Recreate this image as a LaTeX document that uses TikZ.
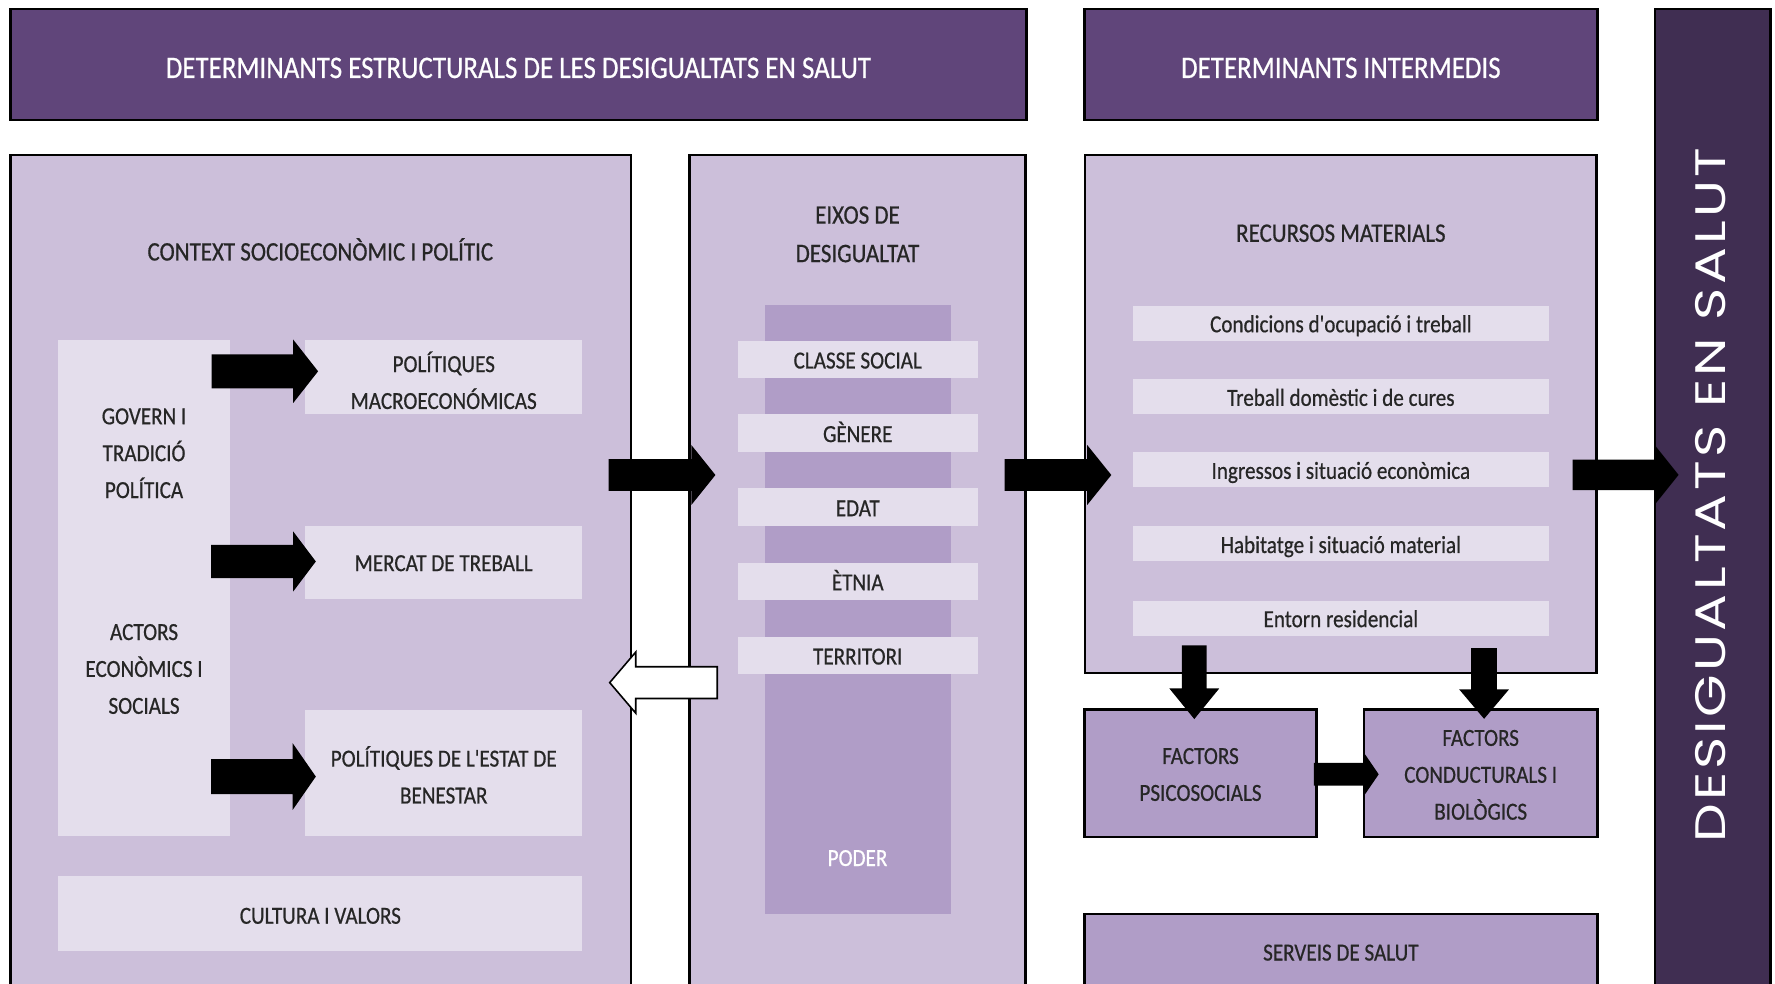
\documentclass[tikz,border=0pt]{standalone}
\usepackage{fontspec}
\setmainfont{Carlito}[FakeStretch=0.86,FakeBold=0.6,Ligatures=TeXOff]
\newfontfamily\barfont{Poppins}[LetterSpace=6]
\definecolor{hdrc}{RGB}{96,69,122}
\definecolor{barc}{RGB}{64,46,82}
\definecolor{lav}{RGB}{204,191,218}
\definecolor{pale}{RGB}{228,222,236}
\definecolor{midc}{RGB}{176,157,199}
\definecolor{ink}{RGB}{38,38,38}
\tikzset{
  pics/fatarrow/.style args={#1/#2/#3/#4}{code={
    \fill[black] (0,-#2) -- ({#1-#4},-#2) -- ({#1-#4},-#3) -- (#1,0) -- ({#1-#4},#3) -- ({#1-#4},#2) -- (0,#2) -- cycle;}},
  pics/hollowarrow/.style args={#1/#2/#3/#4}{code={
    \filldraw[fill=white,draw=black,line width=1.4pt,line join=miter] (0,-#2) -- ({#1-#4},-#2) -- ({#1-#4},-#3) -- (#1,0) -- ({#1-#4},#3) -- ({#1-#4},#2) -- (0,#2) -- cycle;}}
}
\begin{document}
\begin{tikzpicture}[x=1pt,y=-1pt,
  every node/.style={inner sep=0pt,outer sep=0pt},
  nw/.style 2 args={anchor=north west,minimum width=#1pt,minimum height=#2pt},
  frame/.style={draw=black,line width=2.4pt},
  hdr/.style={frame,fill=hdrc},
  panel/.style={frame,fill=lav},
  dbox/.style={frame,fill=midc},
  pbox/.style={fill=pale},
  bandtxt/.style={text=ink,font=\fontsize{21.7}{32.6}\selectfont,text height=16pt,text depth=0pt},
  body/.style={text=ink,font=\fontsize{21.7}{32.6}\selectfont,align=center},
  bone/.style={text height=14pt,text depth=0pt},
  ttl/.style={text=ink,font=\fontsize{23.6}{34}\selectfont,align=center},
  tone/.style={text height=15.2pt,text depth=0pt},
  hdrtxt/.style={text=white,font=\fontsize{27.7}{32}\selectfont,text height=17.8pt,text depth=0pt}
]
\useasboundingbox (0,0) rectangle (1568,869.2);
\clip (0,0) rectangle (1568,869.2);

% headers
\node[hdr,nw={898}{98}] (h1) at (9,8) {};
\node[hdrtxt] (h1t) at (458,60) {DETERMINANTS ESTRUCTURALS DE LES DESIGUALTATS EN SALUT};
\node[hdr,nw={453}{98}] (h2) at (958,8) {};
\node[hdrtxt] (h2t) at (1184.5,60) {DETERMINANTS INTERMEDIS};
\node[frame,fill=barc,nw={102}{900}] (bar) at (1462,8) {};
\node[text=white,rotate=90] (bart) at (1511,437.5) {\resizebox{614pt}{26.6pt}{\barfont DESIGUALTATS EN SALUT}};

% panels
\node[panel,nw={548.5}{800}] (ctx) at (9,137) {};
\node[panel,nw={297}{800}] (eix) at (609,137) {};
\node[panel,nw={452}{457.5}] (rec) at (958.5,137) {};
\node[dbox,nw={205}{112.5}] (psi) at (958,627) {};
\node[dbox,nw={206}{112.5}] (cond) at (1205,627) {};
\node[dbox,nw={453}{120}] (serv) at (958,807.5) {};

% left panel
\node[ttl,tone] (ctxt) at (283,222.5) {CONTEXT SOCIOECONÒMIC I POLÍTIC};
\node[pbox,nw={151.5}{438.5}] (gov) at (51.5,300) {};
\node[pbox,nw={245}{66}] (pm) at (269.5,300) {};
\node[pbox,nw={245}{64}] (mt) at (269.5,465) {};
\node[pbox,nw={245}{111}] (peb) at (269.5,627.5) {};
\node[pbox,nw={463}{67}] (cv) at (51.5,773.5) {};
\node[body] (govt) at (127.25,400.4) {GOVERN I\\TRADICIÓ\\POLÍTICA};
\node[body] (actt) at (127.25,591) {ACTORS\\ECONÒMICS I\\SOCIALS};
\node[body] (pmt) at (392,336) {POLÍTIQUES\\MACROECONÓMICAS};
\node[body,bone] (mtt) at (392,497.5) {MERCAT DE TREBALL};
\node[body] (pebt) at (392,684.5) {POLÍTIQUES DE L'ESTAT DE\\BENESTAR};
\node[body,bone] (cvt) at (283,809) {CULTURA I VALORS};

% middle panel
\node[ttl] (eixt) at (757.5,207) {EIXOS DE\\DESIGUALTAT};
\node[fill=midc,nw={164.5}{538}] (pod) at (675.5,269.5) {};
\node[pbox,bandtxt,nw={212}{33}] (e1) at (651.7,301) {CLASSE SOCIAL};
\node[pbox,bandtxt,nw={212}{33}] (e2) at (651.7,366) {GÈNERE};
\node[pbox,bandtxt,nw={212}{33}] (e3) at (651.7,431.5) {EDAT};
\node[pbox,bandtxt,nw={212}{33}] (e4) at (651.7,497) {ÈTNIA};
\node[pbox,bandtxt,nw={212}{33}] (e5) at (651.7,562.5) {TERRITORI};
\node[body,bone,text=white] (podt) at (757.5,758) {PODER};

% right panel
\node[ttl,tone] (rect) at (1184.5,206) {RECURSOS MATERIALS};
\node[pbox,bandtxt,nw={367}{31}] (r1) at (1001,270) {Condicions d'ocupació i treball};
\node[pbox,bandtxt,nw={367}{31}] (r2) at (1001,335) {Treball domèstic i de cures};
\node[pbox,bandtxt,nw={367}{31}] (r3) at (1001,399.5) {Ingressos i situació econòmica};
\node[pbox,bandtxt,nw={367}{31}] (r4) at (1001,465) {Habitatge i situació material};
\node[pbox,bandtxt,nw={367}{31}] (r5) at (1001,530.5) {Entorn residencial};
\node[body] (psit) at (1060.5,684.2) {FACTORS\\PSICOSOCIALS};
\node[body] (condt) at (1308,684.5) {FACTORS\\CONDUCTURALS I\\BIOLÒGICS};
\node[body,bone] (servt) at (1184.5,841.5) {SERVEIS DE SALUT};

% arrows
\pic (a1) at (187,328) {fatarrow=94/15/28/22};
\pic (a2) at (186.5,496) {fatarrow=92.5/14.7/26.5/20};
\pic (a3) at (186.5,686) {fatarrow=92.5/15.5/29.5/20.5};
\pic (b1) at (537.7,419.6) {fatarrow=94.3/14/26.5/21.3};
\pic (b2) at (887.4,419.6) {fatarrow=94.3/14/26.5/21.3};
\pic (b3) at (1389.2,419.5) {fatarrow=93.6/13.4/25/20};
\pic[rotate=180] (w1) at (633.6,603) {hollowarrow=95/14/27/23};
\pic[rotate=-90] (d1) at (1055,570.2) {fatarrow=65/11/22/27};
\pic[rotate=-90] (d2) at (1311,572.5) {fatarrow=62.5/11.4/22/26};
\pic (f1) at (1160.7,684) {fatarrow=57.2/10/19/13};
\end{tikzpicture}
\end{document}
